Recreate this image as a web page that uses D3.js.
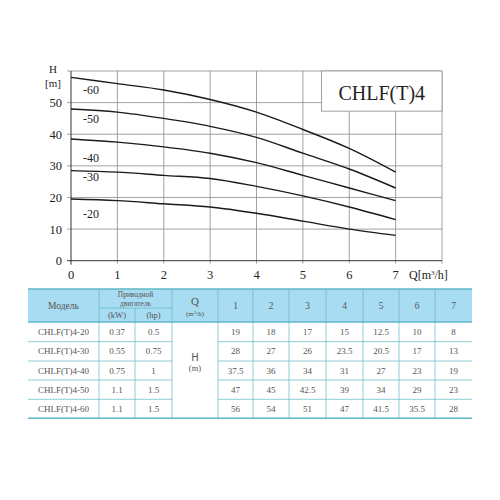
<!DOCTYPE html>
<html><head><meta charset="utf-8">
<script src="https://cdn.jsdelivr.net/npm/d3@7"></script>
<style>body{margin:0;background:#fff}svg{display:block}</style>
</head><body>
<svg id="c" width="500" height="500"></svg>
<script>
const flows = [0,1,2,3,4,5,6,7];
const xTicks = [0,1,2,3,4,5,6,7];
const yTicks = [0,10,20,30,40,50];
const curveNames = ["-20","-30","-40","-50","-60"];
const models = ["CHLF(T)4-20","CHLF(T)4-30","CHLF(T)4-40","CHLF(T)4-50","CHLF(T)4-60"];
const kW = ["0.37","0.55","0.75","1.1","1.1"];
const hp = ["0.5","0.75","1","1.5","1.5"];
const head0 = [19.5,28.5,38.5,48,58];
const h20 = [19,18,17,15,12.5,10,8];
const h30 = [28,27,26,23.5,20.5,17,13];
const h40 = [37.5,36,34,31,27,23,19];
const h50 = [47,45,42.5,39,34,29,23];
const h60 = [56,54,51,47,41.5,35.5,28];
const heads = [h20,h30,h40,h50,h60];
const title = "CHLF(T)4";

(function(){
const svg = d3.select("#c");
const serif = "'Liberation Serif','DejaVu Serif',serif";
const x = d3.scaleLinear().domain([0,8]).range([71,442]);
const y = d3.scaleLinear().domain([0,60]).range([260.7,71]);

const g = svg.append("g");
g.selectAll(".vg").data([1,2,3,4,5,6,7,8]).enter().append("line")
 .attr("x1",d=>x(d)).attr("x2",d=>x(d)).attr("y1",y(60)).attr("y2",y(0)+3)
 .attr("stroke","#8a8a8a").attr("stroke-width",0.8);
g.selectAll(".hg").data([10,20,30,40,50,60]).enter().append("line")
 .attr("x1",x(0)-4).attr("x2",x(8)).attr("y1",d=>y(d)).attr("y2",d=>y(d))
 .attr("stroke","#8a8a8a").attr("stroke-width",0.8);
g.append("line").attr("x1",x(0)).attr("x2",x(0)).attr("y1",y(60)).attr("y2",y(0)+4).attr("stroke","#333").attr("stroke-width",1);
g.append("line").attr("x1",x(0)-4).attr("x2",x(8)).attr("y1",y(0)).attr("y2",y(0)).attr("stroke","#333").attr("stroke-width",1);

g.selectAll(".yt").data(yTicks).enter().append("text")
 .attr("x",x(0)-9).attr("y",d=>y(d)+4.5).attr("text-anchor","end")
 .attr("font-family",serif).attr("font-size",12.5).attr("fill","#222").text(d=>d);
g.selectAll(".xt").data(xTicks).enter().append("text")
 .attr("x",d=>x(d)).attr("y",279).attr("text-anchor","middle")
 .attr("font-family",serif).attr("font-size",12.5).attr("fill","#222").text(d=>d);
g.append("text").attr("x",53).attr("y",73).attr("text-anchor","middle")
 .attr("font-family",serif).attr("font-size",11).attr("fill","#222").text("H");
g.append("text").attr("x",53).attr("y",86.5).attr("text-anchor","middle")
 .attr("font-family",serif).attr("font-size",11).attr("fill","#222").text("[m]");
const ql = g.append("text").attr("x",409).attr("y",279)
 .attr("font-family",serif).attr("font-size",12).attr("fill","#222");
ql.append("tspan").text("Q[m");
ql.append("tspan").attr("font-size",7).attr("dy",-4).text("3");
ql.append("tspan").attr("dy",4).text("/h]");

g.append("rect").attr("x",x(5.4)).attr("y",y(60)).attr("width",x(8)-x(5.4)).attr("height",y(60-12.7)-y(60))
 .attr("fill","#fff").attr("stroke","#8a8a8a").attr("stroke-width",0.8);
g.append("text").attr("x",(x(5.4)+x(8))/2).attr("y",100).attr("text-anchor","middle")
 .attr("font-family",serif).attr("font-size",20).attr("fill","#222").text(title);

const line = d3.line().x((d,i)=>x(flows[i])).y(d=>y(d)).curve(d3.curveMonotoneX);
heads.forEach((h,k)=>{
  g.append("path").attr("d",line([head0[k]].concat(h))).attr("fill","none")
   .attr("stroke","#1a1a1a").attr("stroke-width",1.4);
});
const labelY = [14.7,26.4,32.5,44.7,54];
curveNames.forEach((n,k)=>{
  g.append("text").attr("x",83).attr("y",y(labelY[k])+4).attr("font-family",serif)
   .attr("font-size",12).attr("fill","#222").text(n);
});

const T = svg.append("g");
const colX = [28,99,135,172,218,253,289,326,363,399,435,472];
const tTop = 289, hb = 322, sub = 308;
const rowY = [322,341.7,361,380,399.3,418.3];
const lineC = "#5fb7c4", fill = "#a8dcf2", tc = "#555";
T.append("rect").attr("x",colX[0]).attr("y",tTop).attr("width",colX[11]-colX[0]).attr("height",hb-tTop).attr("fill",fill);
T.append("line").attr("x1",colX[0]).attr("x2",colX[11]).attr("y1",tTop).attr("y2",tTop).attr("stroke",lineC).attr("stroke-width",1.5);
T.append("line").attr("x1",colX[0]).attr("x2",colX[11]).attr("y1",hb).attr("y2",hb).attr("stroke",lineC).attr("stroke-width",1.3);
T.append("line").attr("x1",colX[0]).attr("x2",colX[11]).attr("y1",rowY[5]).attr("y2",rowY[5]).attr("stroke",lineC).attr("stroke-width",1.5);
rowY.slice(1,5).forEach(yy=>{
  T.append("line").attr("x1",colX[0]).attr("x2",colX[3]).attr("y1",yy).attr("y2",yy).attr("stroke",lineC).attr("stroke-width",0.7);
  T.append("line").attr("x1",colX[4]).attr("x2",colX[11]).attr("y1",yy).attr("y2",yy).attr("stroke",lineC).attr("stroke-width",0.7);
});
T.append("line").attr("x1",colX[1]).attr("x2",colX[3]).attr("y1",sub).attr("y2",sub).attr("stroke",lineC).attr("stroke-width",0.7);
colX.slice(1,11).forEach(cx=>{
  const y1 = (cx===135)? sub : tTop;
  T.append("line").attr("x1",cx).attr("x2",cx).attr("y1",y1).attr("y2",rowY[5]).attr("stroke",lineC).attr("stroke-width",0.7);
});
const txt = (xx,yy,s,fs,ff)=>T.append("text").attr("x",xx).attr("y",yy).attr("text-anchor","middle")
  .attr("font-family",ff||serif).attr("font-size",fs||9).attr("fill",tc).text(s);
const mid = i=>(colX[i]+colX[i+1])/2;
txt(mid(0),309,"Модель",9.5);
txt((colX[1]+colX[3])/2,297,"Приводной",7.4);
txt((colX[1]+colX[3])/2,305.6,"двигатель",7.4);
txt(mid(1),318,"(kW)",8.5);
txt(mid(2),318,"(hp)",8.5);
txt(mid(3),305,"Q",11);
const qs = T.append("text").attr("x",mid(3)).attr("y",316).attr("text-anchor","middle").attr("font-family",serif).attr("font-size",7).attr("fill",tc);
qs.append("tspan").text("(m"); qs.append("tspan").attr("font-size",5).attr("dy",-2.5).text("3"); qs.append("tspan").attr("dy",2.5).text("/h)");
xTicks.slice(1).forEach((q,i)=>txt(mid(4+i),309,q,9.5));
txt(mid(3),361,"H",10,"'DejaVu Sans',sans-serif");
txt(mid(3),371,"(m)",8.5);
models.forEach((m,r)=>{
  const cy = (rowY[r]+rowY[r+1])/2+3;
  txt(mid(0),cy,m,9);
  txt(mid(1),cy,kW[r],9);
  txt(mid(2),cy,hp[r],9);
  heads[r].forEach((v,i)=>txt(mid(4+i),cy,v,9));
});
})();
</script>
</body></html>
